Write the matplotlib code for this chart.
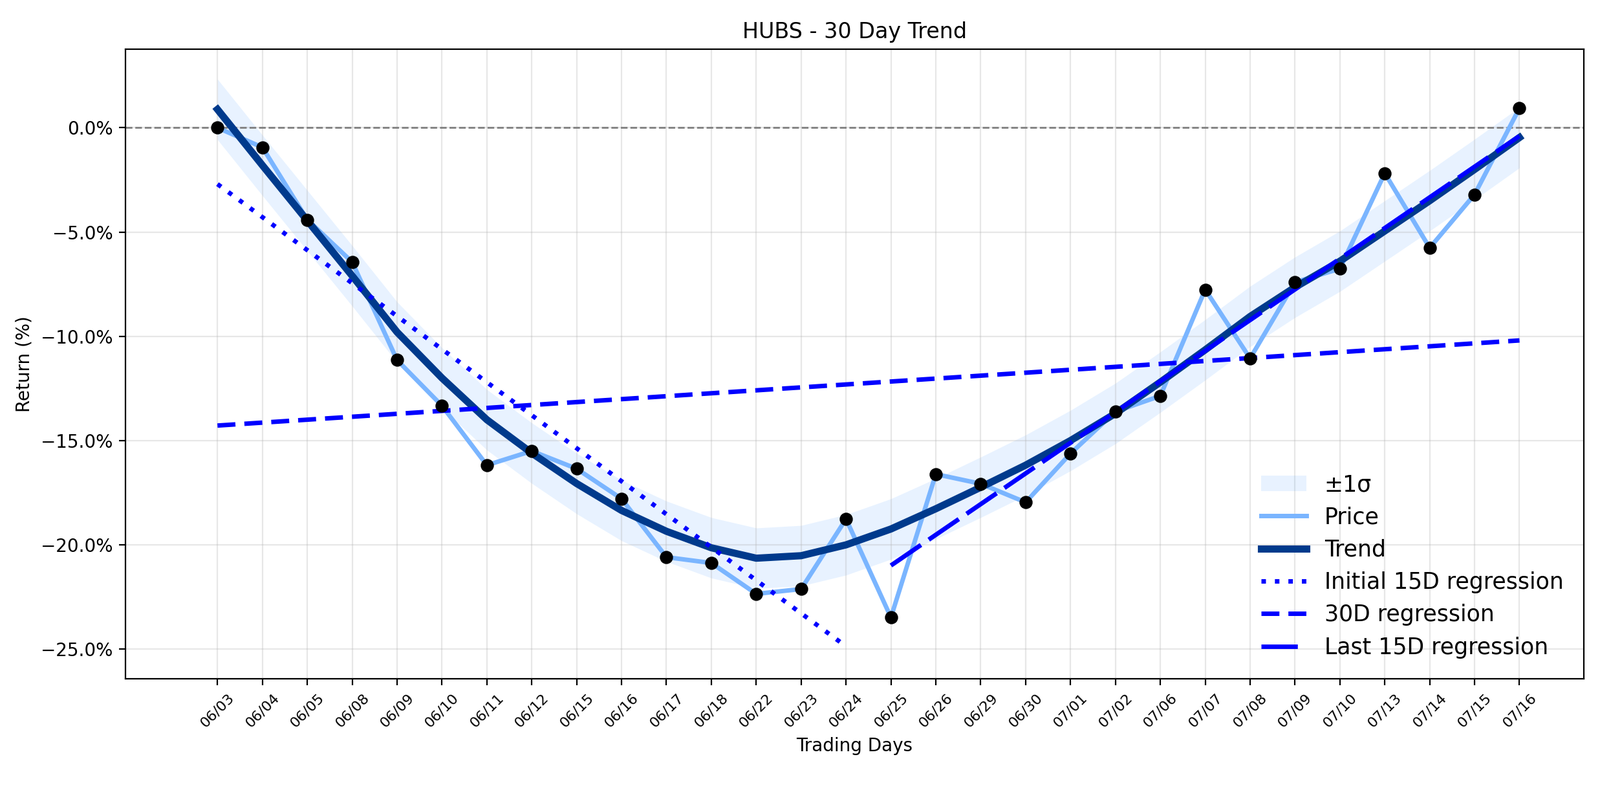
import numpy as np
import matplotlib
matplotlib.use("Agg")
import matplotlib.pyplot as plt
from matplotlib.ticker import FuncFormatter

dates = ["06/03", "06/04", "06/05", "06/08", "06/09", "06/10", "06/11", "06/12",
         "06/15", "06/16", "06/17", "06/18", "06/22", "06/23", "06/24", "06/25",
         "06/26", "06/29", "06/30", "07/01", "07/02", "07/06", "07/07", "07/08",
         "07/09", "07/10", "07/13", "07/14", "07/15", "07/16"]

price = [0.0, -0.94, -4.41, -6.44, -11.14, -13.33, -16.18, -15.50,
         -16.35, -17.79, -20.59, -20.87, -22.35, -22.12, -18.76, -23.48,
         -16.61, -17.07, -17.96, -15.62, -13.61, -12.86, -7.76, -11.06,
         -7.41, -6.76, -2.18, -5.76, -3.20, 0.94]

trend = [0.88, -1.80, -4.45, -7.10, -9.80, -12.00, -14.00, -15.60,
         -17.06, -18.35, -19.35, -20.14, -20.64, -20.52, -20.00, -19.24,
         -18.27, -17.24, -16.18, -15.00, -13.70, -12.20, -10.65, -9.05,
         -7.65, -6.40, -4.95, -3.50, -2.00, -0.47]

sigma = 1.45

x = np.arange(len(dates))
price_a = np.array(price)
trend_a = np.array(trend)

fig = plt.figure(figsize=(12.37, 6.12), dpi=200)
ax = fig.add_axes([0.0784, 0.143, 0.9114, 0.795])

ax.fill_between(x, trend_a - sigma, trend_a + sigma, color="#1e88ff", alpha=0.1,
                linewidth=0, label="\u00b11\u03c3")
ax.plot(x, price_a, color="#7ab5ff", lw=2.5, label="Price", zorder=3)
ax.plot(x, trend_a, color="#003a8c", lw=4, label="Trend", zorder=4)
ax.scatter(x, price_a, color="black", s=40, zorder=6)

# regressions
n15 = 15
c1 = np.polyfit(x[:n15], price_a[:n15], 1)
ax.plot(x[:n15], np.polyval(c1, x[:n15]), color="blue", lw=2.5, ls=(0, (1, 2)),
        label="Initial 15D regression", zorder=5)
c2 = np.polyfit(x, price_a, 1)
ax.plot(x, np.polyval(c2, x), color="blue", lw=2.5, ls=(0, (4, 2)),
        label="30D regression", zorder=5)
c3 = np.polyfit(x[-n15:], price_a[-n15:], 1)
ax.plot(x[-n15:], np.polyval(c3, x[-n15:]), color="blue", lw=2.5, ls=(0, (8.1, 2.1)),
        label="Last 15D regression", zorder=5)

ax.axhline(0, color="gray", ls="--", lw=1, zorder=2)

ax.set_xlim(-2.05, 30.43)
ax.set_ylim(-26.42, 3.77)
ax.set_xticks(x)
ax.set_xticklabels(dates, rotation=45, fontsize=8)
ax.set_yticks([0, -5, -10, -15, -20, -25])
ax.yaxis.set_major_formatter(FuncFormatter(lambda v, p: f"{v:.1f}%".replace("-", "\u2212")))
ax.grid(True, alpha=0.3)
ax.set_title("HUBS - 30 Day Trend", fontsize=12)
ax.set_xlabel("Trading Days")
ax.set_ylabel("Return (%)")
ax.legend(loc="lower right", frameon=False, fontsize=12.5, labelspacing=0.47)

fig.savefig("out.png", dpi=200)
